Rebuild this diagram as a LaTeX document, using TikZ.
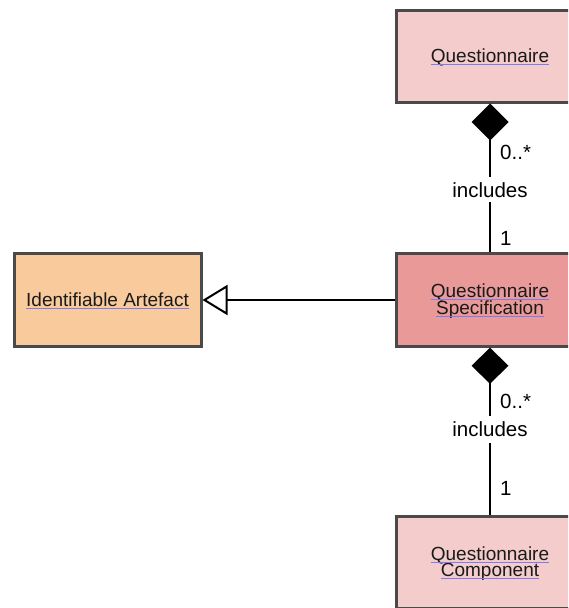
\documentclass[tikz,border=0pt]{standalone}
\usepackage{fontspec}
\setmainfont{Liberation Sans}
\usetikzlibrary{arrows.meta}
\definecolor{qpink}{HTML}{F4CCCC}
\definecolor{qred}{HTML}{EA9999}
\definecolor{qorange}{HTML}{F9CB9C}
\definecolor{qborder}{HTML}{4A4A4A}
\definecolor{qtext}{HTML}{1A1A1A}
\definecolor{ulblue}{HTML}{7C7CF0}
\tikzset{
  cls/.style={draw=qborder, line width=3pt, minimum width=188pt, minimum height=92pt, inner sep=0pt},
  txt/.style={anchor=base, text=qtext, font=\fontsize{19}{18}\selectfont, inner sep=0pt},
  ul/.style={draw=ulblue, line width=1.4pt},
  lbl/.style={font=\fontsize{20.5}{22}\selectfont, inner sep=2pt},
  conn/.style={line width=2pt, draw=black},
}
\newcommand\ulnode[1]{\draw[ul] ([yshift=-2.2pt]#1.base west) -- ([yshift=-2.2pt]#1.base east);}
\begin{document}
\begin{tikzpicture}[x=1pt,y=-1pt]
\useasboundingbox (0,0) rectangle (568,608);
\clip (0,0) rectangle (568,608);
% class boxes
\node[cls, fill=qpink] (q) at (490,56) {};
\node[cls, fill=qred, minimum height=92.5pt] (qs) at (490,300) {};
\node[cls, fill=qorange, minimum width=187pt, minimum height=92.5pt] (ia) at (107.5,300) {};
\node[cls, fill=qpink] (qc) at (490,562) {};
% class names
\node[txt] (tq) at (490,62.5) {Questionnaire};
\node[txt] (tqs1) at (490,297.5) {Questionnaire};
\node[txt] (tqs2) at (490,314) {Specification};
\node[txt] (tia) at (107.5,306.5) {Identifiable Artefact};
\node[txt] (tqc1) at (490,560) {Questionnaire};
\node[txt] (tqc2) at (490,576.5) {Component};
\ulnode{tq}\ulnode{tqs1}\ulnode{tqs2}\ulnode{tia}\ulnode{tqc1}\ulnode{tqc2}
% composition 1
\draw[conn, {Diamond[length=37pt,width=37pt]}-] (q.south) -- (qs.north)
  node[pos=0.58, lbl, fill=white, inner ysep=5pt] (inc1) {includes};
\node[lbl, anchor=west] (m1) at (498,152) {0..*};
\node[lbl, anchor=west] (o1) at (498,238) {1};
% composition 2
\draw[conn, {Diamond[length=36pt,width=37pt]}-] (qs.south) -- (qc.north)
  node[pos=0.49, lbl, fill=white, inner ysep=6pt] (inc2) {includes};
\node[lbl, anchor=west] (m2) at (498,401) {0..*};
\node[lbl, anchor=west] (o2) at (498,488) {1};
% generalization
\draw[conn, -{Triangle[open,length=25pt,width=30pt]}] (qs.west) -- (ia.east);
\end{tikzpicture}
\end{document}
